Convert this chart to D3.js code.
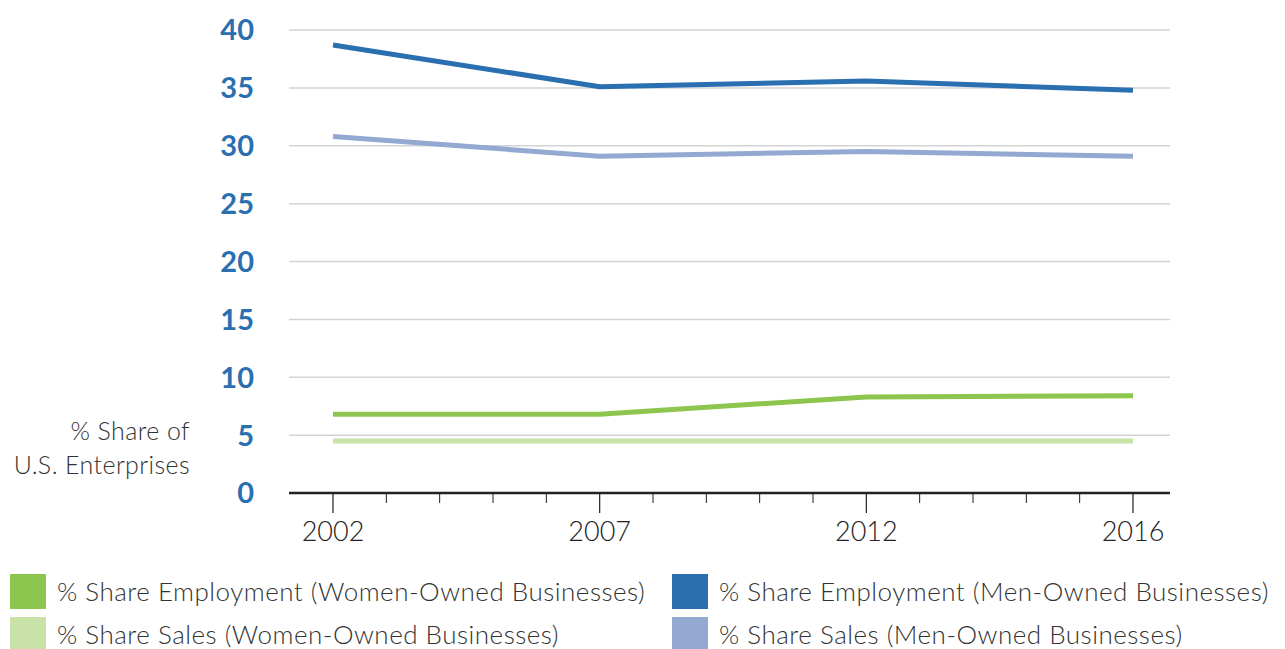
<!DOCTYPE html>
<html>
<head>
<meta charset="utf-8">
<script src="https://cdn.jsdelivr.net/npm/d3@7"></script>
<style>
  html, body { margin: 0; padding: 0; background: #fff; }
  svg { display: block; }
  text { font-family: Lato, "Open Sans", sans-serif; }
</style>
</head>
<body>
<svg id="chart" width="1285" height="649"></svg>
<script>
// Survey years shown on the x axis
const years = ["2002", "2007", "2012", "2016"];

// % share of U.S. enterprises, one value per survey year
const womenEmployment = [6.8, 6.8, 8.3, 8.4];
const womenSales = [4.5, 4.5, 4.5, 4.5];
const menEmployment = [38.7, 35.1, 35.6, 34.8];
const menSales = [30.8, 29.1, 29.5, 29.1];

const yTicks = [0, 5, 10, 15, 20, 25, 30, 35, 40];

const seriesNames = [
  "% Share Employment (Women-Owned Businesses)",
  "% Share Sales (Women-Owned Businesses)",
  "% Share Employment (Men-Owned Businesses)",
  "% Share Sales (Men-Owned Businesses)"
];
const seriesColors = ["#8dc64e", "#c8e2a7", "#2a6faf", "#93a9d2"];
const seriesValues = [womenEmployment, womenSales, menEmployment, menSales];

const svg = d3.select("#chart");

const plotLeft = 289, plotRight = 1170, plotTop = 30, plotBottom = 493;

// Category positions: first and last year sit inset from the axis ends
const x = d3.scalePoint().domain(years).range([333, 1133]);
const y = d3.scaleLinear().domain([0, 40]).range([plotBottom, plotTop]);

// Horizontal gridlines
svg.append("g")
  .selectAll("line")
  .data(yTicks.filter(d => d > 0))
  .join("line")
  .attr("x1", plotLeft).attr("x2", plotRight)
  .attr("y1", d => y(d)).attr("y2", d => y(d))
  .attr("stroke", "#d3d3d3")
  .attr("stroke-width", 1.5);

// Y tick labels
svg.append("g")
  .selectAll("text")
  .data(yTicks)
  .join("text")
  .attr("x", 254)
  .attr("y", d => y(d))
  .attr("dy", "0.36em")
  .attr("text-anchor", "end")
  .attr("font-size", 29)
  .attr("font-weight", 700)
  .attr("fill", "#2a6faf")
  .text(d => d);

// Axis title
svg.append("text")
  .attr("text-anchor", "end")
  .attr("font-size", 25)
  .attr("font-weight", 300)
  .attr("letter-spacing", 0.4)
  .attr("fill", "#333")
  .selectAll("tspan")
  .data(["% Share of", "U.S. Enterprises"])
  .join("tspan")
  .attr("x", 190)
  .attr("y", (d, i) => 440 + i * 34)
  .text(d => d);

// Series lines
const line = d3.line()
  .x((d, i) => x(years[i]))
  .y(d => y(d));

svg.append("g")
  .selectAll("path")
  .data(seriesValues)
  .join("path")
  .attr("d", d => line(d))
  .attr("fill", "none")
  .attr("stroke", (d, i) => seriesColors[i])
  .attr("stroke-width", 5)
  .attr("stroke-linejoin", "round")
  .attr("stroke-linecap", "butt");

// Bottom axis: major ticks at survey years, minor ticks for the years between
const step = (x(years[1]) - x(years[0])) / 5;
const minor = [];
for (let k = 0; k < years.length - 1; k++) {
  for (let j = 1; j < 5; j++) minor.push(x(years[k]) + j * step);
}
const axisG = svg.append("g");
axisG.append("line")
  .attr("x1", plotLeft).attr("x2", plotRight)
  .attr("y1", plotBottom).attr("y2", plotBottom)
  .attr("stroke", "#222").attr("stroke-width", 2.5);
axisG.selectAll("line.minor")
  .data(minor)
  .join("line")
  .attr("class", "minor")
  .attr("x1", d => d).attr("x2", d => d)
  .attr("y1", plotBottom).attr("y2", plotBottom + 10)
  .attr("stroke", "#222").attr("stroke-width", 1);
axisG.selectAll("line.major")
  .data(years)
  .join("line")
  .attr("class", "major")
  .attr("x1", d => x(d)).attr("x2", d => x(d))
  .attr("y1", plotBottom).attr("y2", plotBottom + 20)
  .attr("stroke", "#222").attr("stroke-width", 1.2);
axisG.selectAll("text")
  .data(years)
  .join("text")
  .attr("x", d => x(d))
  .attr("y", 541)
  .attr("text-anchor", "middle")
  .attr("font-size", 27)
  .attr("font-weight", 300)
  .attr("fill", "#222")
  .text(d => d);

// Legend: two columns, two rows
const legendPos = [
  { x: 10, y: 574 }, { x: 10, y: 617 },
  { x: 672, y: 574 }, { x: 672, y: 617 }
];
const legend = svg.append("g")
  .selectAll("g")
  .data(seriesNames)
  .join("g")
  .attr("transform", (d, i) => `translate(${legendPos[i].x},${legendPos[i].y})`);
legend.append("rect")
  .attr("width", 36).attr("height", 35)
  .attr("fill", (d, i) => seriesColors[i]);
legend.append("text")
  .attr("x", 47)
  .attr("y", 27)
  .attr("font-size", 26)
  .attr("font-weight", 300)
  .attr("letter-spacing", 0.5)
  .attr("fill", "#333")
  .text(d => d);
</script>
</body>
</html>
